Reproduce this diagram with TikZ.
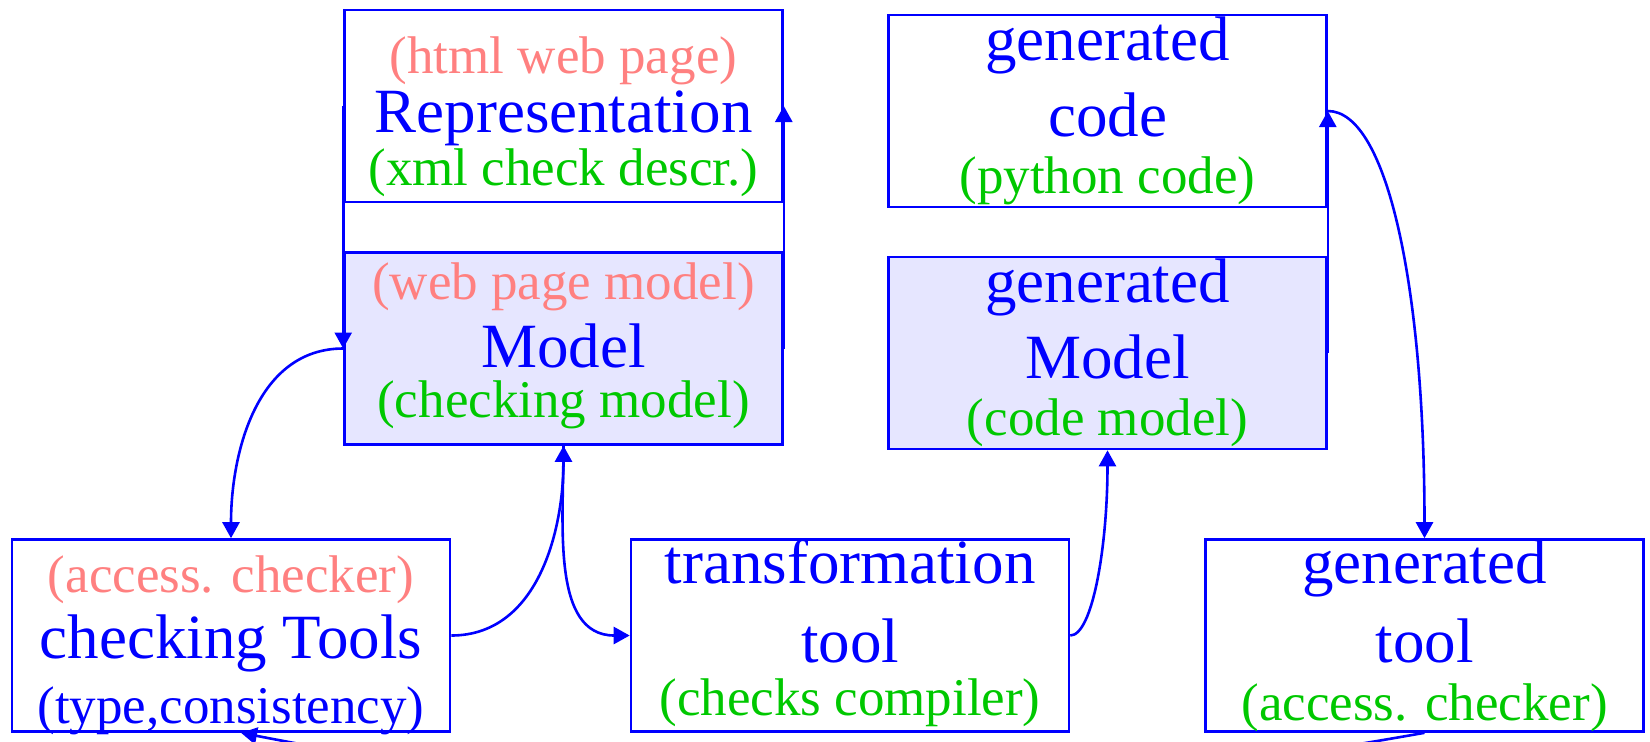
\documentclass[tikz,border=0pt]{standalone}
\usepackage{fontspec}
\setmainfont{Liberation Serif}
\usetikzlibrary{arrows.meta}
\definecolor{pinktxt}{RGB}{255,128,128}
\definecolor{greentxt}{RGB}{0,200,0}
\definecolor{modelfill}{RGB}{230,230,255}
\newcommand{\bigtxt}{\fontsize{31.5pt}{0pt}\selectfont}
\newcommand{\smalltxt}{\fontsize{26.5pt}{0pt}\selectfont}
\newcommand{\pinkline}[1]{{\smalltxt\color{pinktxt}#1}}
\newcommand{\greenline}[1]{{\smalltxt\color{greentxt}#1}}
% three centred lines, gaps between baselines given
\newcommand{\threelines}[5]{\vbox{\baselineskip=0pt\lineskiplimit=-\maxdimen
  \halign{\hfil##\hfil\cr#3\cr\noalign{\vskip#1}#4\cr\noalign{\vskip#2}#5\cr}}}
\tikzset{
  box/.style = {rectangle, draw=blue, inner sep=0pt, text=blue,
    minimum width=219pt, minimum height=96pt},% boite blanche
  modelbox/.style = {box, fill=modelfill}% boite modele
}

\begin{document}
\begin{tikzpicture}[x=0.5pt,y=-0.5pt,line width=1.3pt,blue,->,
  >={Triangle[length=8pt,width=8.5pt]}]

	\useasboundingbox (0,0) rectangle (1650,741);
	\clip (0,0) rectangle (1650,741);

	\node [box, text depth=8.5pt, text height=87.5pt] (repr) at (563.5,106)
		{\threelines{29.5pt}{26.5pt}{\pinkline{(html web page)}}{\bigtxt Representation}{\greenline{(xml check descr.)}}};
	\node [modelbox, text depth=13.5pt, text height=82.5pt] (model) at (563.5,348.5)
		{\threelines{34pt}{25pt}{\pinkline{(web page model)}}{\bigtxt Model}{\greenline{(checking model)}}};
	\node [box, text depth=7pt, text height=89pt] (gencode) at (1107.5,111)
		{\threelines{38pt}{28.5pt}{\bigtxt generated}{\bigtxt code}{\greenline{(python code)}}};
	\node [modelbox, text depth=7pt, text height=89pt] (genmodel) at (1107.5,353)
		{\threelines{38pt}{28.5pt}{\bigtxt generated}{\bigtxt Model}{\greenline{(code model)}}};
	\node [box, text depth=4pt, text height=92pt] (tools) at (231,635.5)
		{\threelines{33pt}{32.5pt}{\pinkline{(access. checker)}}{\bigtxt checking Tools}{\smalltxt (type,consistency)}};
	\node [box, text depth=8pt, text height=88pt] (transf) at (850,635.5)
		{\threelines{39.5pt}{26.5pt}{\bigtxt transformation}{\bigtxt tool}{\greenline{(checks compiler)}}};
	\node [box, text depth=5.5pt, text height=90.5pt] (gentool) at (1424.5,635.5)
		{\threelines{39.5pt}{29pt}{\bigtxt generated}{\bigtxt tool}{\greenline{(access. checker)}}};

	\draw (repr.west) -- (model.west);
	\draw (model.east) -- (repr.east);
	\draw (model.west) to[out=180,in=90] (tools.north);
	\draw (tools.east) to[out=0,in=-90] (model.south);
	\draw (model.south) to[out=-90,in=180] (transf.west);
	\draw (transf.east) to[out=0,in=-90,out looseness=0.3,in looseness=1.3] (genmodel.south);
	\draw (genmodel.east) -- (gencode.east);
	\draw (gencode.east) to[out=0,in=90,out looseness=0.35,in looseness=1.45] (gentool.north);
	\draw (gentool.south) to[out=-170,in=-11] ([xshift=5pt]tools.south);

\end{tikzpicture}
\end{document}
